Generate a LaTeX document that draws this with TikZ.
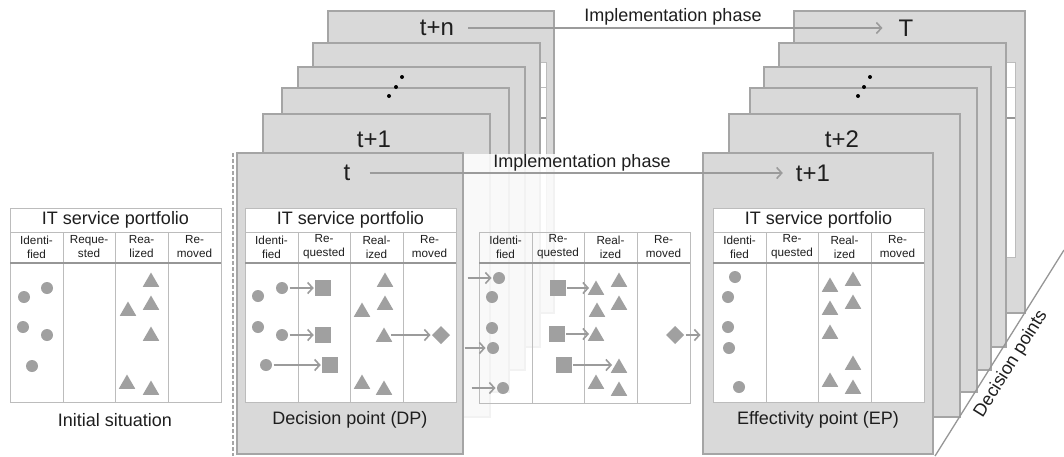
\documentclass[tikz,border=0pt]{standalone}
\usepackage{fontspec}
\setmainfont{Liberation Sans}
\usetikzlibrary{shapes.geometric,arrows.meta}
\definecolor{cFill}{RGB}{217,217,217}
\definecolor{cEdge}{RGB}{165,165,165}
\definecolor{cLine}{RGB}{188,188,188}
\definecolor{cHead}{RGB}{150,150,150}
\definecolor{cShape}{RGB}{160,160,160}
\definecolor{cArrow}{RGB}{155,155,155}
\definecolor{cText}{RGB}{30,30,30}
\newcommand\fsz[2]{\fontsize{#1pt}{#2pt}\selectfont}
\tikzset{
  panelbox/.style={fill=cFill, draw=cEdge, line width=1.3pt},
  tabline/.style={draw=cLine, line width=1pt},
  headline/.style={draw=cHead, line width=1.5pt},
  circ/.style={circle, fill=cShape, inner sep=0pt, outer sep=0pt, minimum size=12pt},
  tri/.style={regular polygon, regular polygon sides=3, fill=cShape, inner sep=0pt, outer sep=0pt, minimum size=19pt},
  sqr/.style={rectangle, fill=cShape, inner sep=0pt, outer sep=0pt, minimum size=15.5pt},
  dia/.style={diamond, fill=cShape, inner sep=0pt, outer sep=0pt, minimum width=18pt, minimum height=18pt},
  arr/.style={draw=cArrow, line width=1.6pt, -{Straight Barb[length=5pt,width=11pt]}, shorten <=1.5pt, shorten >=1.5pt},
  hdtext/.style={font=\fsz{11.7}{14}, align=center, text=cText, inner sep=0pt},
  ttltext/.style={font=\fsz{18}{21}, text=cText, inner sep=0pt},
  lbltext/.style={font=\fsz{18}{21}, text=cText, inner sep=0pt},
  timelbl/.style={font=\fsz{24}{28}, text=cText, inner sep=0pt},
  imptext/.style={font=\fsz{18}{21}, text=cText, inner sep=0pt},
  sepline/.style={draw=cEdge, line width=1.3pt, dash pattern=on 4pt off 2pt},
  axisline/.style={draw=cHead, line width=1.3pt},
  dotn/.style={circle, fill=black, inner sep=0pt, minimum size=4pt}
}
% full table with title: #1 x offset, #2 prefix, #3-#6 column heads
\newcommand\pftab[6]{%
  \begin{scope}[shift={(#1,0)}]
    \draw[tabline, fill=white] (0,208) rectangle (211,402);
    \draw[tabline] (0,232) -- (211,232);
    \foreach \cx in {53,105,158} \draw[tabline] (\cx,232) -- (\cx,402);
    \draw[headline] (0,263) -- (211,263);
    \node[ttltext] (#2title) at (105.5,220) {IT service portfolio};
    \node[hdtext] (#2h1) at (26.5,247) {#3};
    \node[hdtext] (#2h2) at (79,247) {#4};
    \node[hdtext] (#2h3) at (131.5,247) {#5};
    \node[hdtext] (#2h4) at (184.5,247) {#6};
  \end{scope}}
\begin{document}
\begin{tikzpicture}[x=1pt,y=-1pt]
\useasboundingbox (0,0) rectangle (1064,456);

% ---------------- Initial situation
\pftab{10}{a}{Identi-\\fied}{Reque-\\sted}{Rea-\\lized}{Re-\\moved}
\node[circ] (ac1) at (24,297) {};
\node[circ] (ac2) at (47,288) {};
\node[circ] (ac3) at (23,327) {};
\node[circ] (ac4) at (47,335) {};
\node[circ] (ac5) at (32,366) {};
\node[tri] (at1) at (151,282) {};
\node[tri] (at2) at (151,305) {};
\node[tri] (at3) at (128,311) {};
\node[tri] (at4) at (151,336) {};
\node[tri] (at5) at (127,384) {};
\node[tri] (at6) at (151,390) {};
\node[lbltext] (initlbl) at (115,420) {Initial situation};

% separator
\coordinate (sep0) at (233,153);
\coordinate (sep1) at (233,456);
\draw[sepline] (sep0) -- (sep1);

% ---------------- DP stack (back to front)
\draw[panelbox] (328,11) rectangle (554,313);
\draw[tabline, fill=white] (336,62) rectangle (546,257);
\draw[tabline] (336,87) -- (546,87);
\draw[headline] (336,118) -- (546,118);
\draw[panelbox] (313,43) rectangle (540,347);
\draw[panelbox] (298,67) rectangle (525,370);
\draw[panelbox] (282,88) rectangle (509,392);
\draw[panelbox] (263,114) rectangle (490,417);
% fading of the stack below the phase line
\fill[white, fill opacity=0.86] (464,154) rectangle (702,456);
\draw[panelbox] (237,153) rectangle (463,454);
\node[timelbl] (dtn) at (437,28) {t+n};
\node[dotn] (dd1) at (389,96) {};
\node[dotn] (dd2) at (396,87) {};
\node[dotn] (dd3) at (402,77) {};
\node[timelbl] (dt1) at (374,139) {t+1};
\node[timelbl] (dt0) at (347,173) {t};

\pftab{245}{d}{Identi-\\fied}{Re-\\quested}{Real-\\ized}{Re-\\moved}
\node[circ] (dc1) at (258,296) {};
\node[circ] (dc2) at (282,288) {};
\node[circ] (dc3) at (258,327) {};
\node[circ] (dc4) at (282,335) {};
\node[circ] (dc5) at (266,365) {};
\node[sqr] (ds1) at (323,288) {};
\node[sqr] (ds2) at (323,335) {};
\node[sqr] (ds3) at (330,365) {};
\node[tri] (dt_1) at (385,282) {};
\node[tri] (dt_2) at (385,305) {};
\node[tri] (dt_3) at (362,312) {};
\node[tri] (dt_4) at (384,337) {};
\node[tri] (dt_5) at (362,384) {};
\node[tri] (dt_6) at (384,390) {};
\node[dia] (ddia) at (441,335) {};
\draw[arr] (dc2) -- (ds1);
\draw[arr] (dc4) -- (ds2);
\draw[arr] (dc5) -- (ds3);
\draw[arr] (dt_4.east |- ddia) -- (ddia);
\node[lbltext] (dplbl) at (350,420) {Decision point (DP)};

% ---------------- transition table
\begin{scope}[shift={(479,0)}]
  \draw[tabline] (0,232) rectangle (211,403);
  \foreach \cx in {53,105,158} \draw[tabline] (\cx,232) -- (\cx,403);
  \draw[headline] (0,263) -- (211,263);
  \node[hdtext] (mh1) at (26.5,247) {Identi-\\fied};
  \node[hdtext] (mh2) at (79,247) {Re-\\quested};
  \node[hdtext] (mh3) at (131.5,247) {Real-\\ized};
  \node[hdtext] (mh4) at (184.5,247) {Re-\\moved};
\end{scope}
\node[circ] (mc1) at (499,278) {};
\node[circ] (mc2) at (492,297) {};
\node[circ] (mc3) at (492,328) {};
\node[circ] (mc4) at (493,348) {};
\node[circ] (mc5) at (503,388) {};
\coordinate (ma1) at (466,278);
\coordinate (ma2) at (463,348);
\coordinate (ma3) at (470,388);
\draw[arr] (ma1) -- (mc1);
\draw[arr] (ma2) -- (mc4);
\draw[arr] (ma3) -- (mc5);
\node[sqr] (ms1) at (558,288) {};
\node[sqr] (ms2) at (557,334) {};
\node[sqr] (ms3) at (564,365) {};
\node[tri] (mt1) at (596,290) {};
\node[tri] (mt2) at (619,282) {};
\node[tri] (mt3) at (597,312) {};
\node[tri] (mt4) at (619,305) {};
\node[tri] (mt5) at (596,336) {};
\node[tri] (mt6) at (619,368) {};
\node[tri] (mt7) at (596,384) {};
\node[tri] (mt8) at (619,391) {};
\draw[arr] (ms1) -- (ms1 -| mt1.west);
\draw[arr] (ms2) -- (ms2 -| mt5.west);
\draw[arr] (ms3) -- (ms3 -| mt6.west);
\node[dia] (mdia) at (675,335) {};
\coordinate (epin) at (702,335);
\draw[arr] (mdia) -- (epin);

% ---------------- EP stack (back to front)
\draw[panelbox] (794,11) rectangle (1025,313);
\draw[tabline, fill=white] (805,62) rectangle (1015,257);
\draw[tabline] (805,87) -- (1015,87);
\draw[headline] (805,118) -- (1015,118);
\draw[panelbox] (779,43) rectangle (1006,347);
\draw[panelbox] (764,67) rectangle (991,370);
\draw[panelbox] (750,88) rectangle (977,392);
\draw[panelbox] (729,114) rectangle (960,417);
\draw[panelbox] (703,153) rectangle (933,454);
\node[timelbl] (eT) at (906,28) {T};
\node[dotn] (ed1) at (858,96) {};
\node[dotn] (ed2) at (864,87) {};
\node[dotn] (ed3) at (870,77) {};
\node[timelbl] (et2) at (842,139) {t+2};
\node[timelbl] (et1) at (813,173) {t+1};

\pftab{713}{e}{Identi-\\fied}{Re-\\quested}{Real-\\ized}{Re-\\moved}
\node[circ] (ec1) at (735,277) {};
\node[circ] (ec2) at (728,297) {};
\node[circ] (ec3) at (728,327) {};
\node[circ] (ec4) at (729,348) {};
\node[circ] (ec5) at (739,387) {};
\node[tri] (et_1) at (830,287) {};
\node[tri] (et_2) at (853,281) {};
\node[tri] (et_3) at (830,310) {};
\node[tri] (et_4) at (853,304) {};
\node[tri] (et_5) at (830,334) {};
\node[tri] (et_6) at (853,365) {};
\node[tri] (et_7) at (830,382) {};
\node[tri] (et_8) at (853,389) {};
\node[lbltext] (eplbl) at (818,420) {Effectivity point (EP)};

% ---------------- decision points axis
\coordinate (ax0) at (935,456);
\coordinate (ax1) at (1064,250);
\draw[axisline] (ax0) -- (ax1);
\node[imptext, rotate=58] (axlbl) at (1011,364) {Decision points};

% ---------------- implementation phase arrows
\draw[arr, shorten <=14pt, shorten >=16pt] (dtn) -- (eT);
\node[imptext] (imp1) at (673,17) {Implementation phase};
\draw[arr, shorten <=19pt, shorten >=13pt] (dt0) -- (et1);
\node[imptext] (imp2) at (582,163) {Implementation phase};
\end{tikzpicture}
\end{document}
